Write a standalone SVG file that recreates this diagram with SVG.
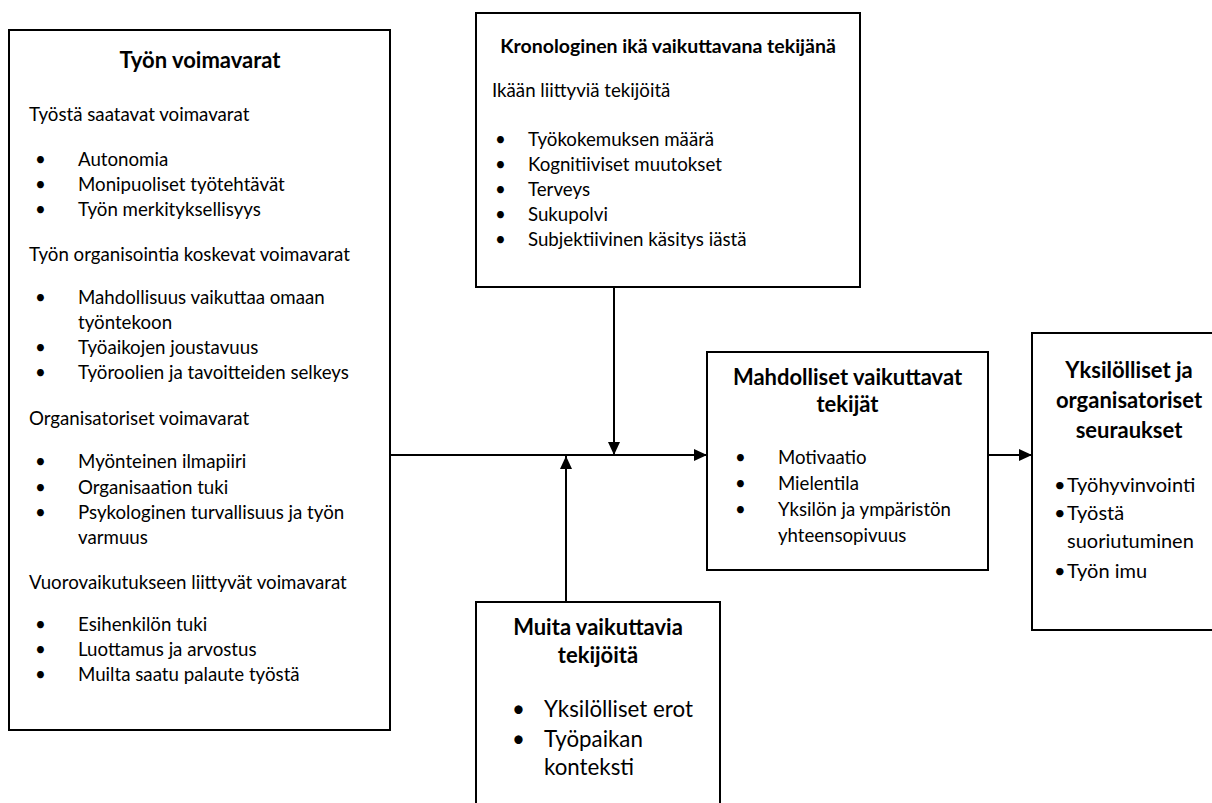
<svg xmlns="http://www.w3.org/2000/svg" width="1212" height="803" viewBox="0 0 1212 803">
<defs>
<style>
.box{fill:#fff;stroke:#000;stroke-width:2}
.ln{fill:none;stroke:#000;stroke-width:2}
text{font-family:Lato,"Liberation Sans",sans-serif;fill:#000}
.h{font-weight:bold;font-size:19.5px;text-anchor:middle}
.h1{font-weight:bold;font-size:22px;text-anchor:middle}
.H{font-weight:bold;font-size:22px;text-anchor:middle}
.r{font-size:18.7px}
.m{font-size:18.6px}
.q{font-size:20px}
.R{font-size:22.3px}
</style>
<marker id="ah" markerUnits="userSpaceOnUse" markerWidth="13" markerHeight="12" refX="13" refY="6" orient="auto">
<path d="M0,0 L13,6 L0,12 z" fill="#000"/>
</marker>
</defs>
<rect width="1212" height="803" fill="#fff"/>

<g id="tyon-voimavarat">
<rect class="box" x="9" y="30" width="381" height="700"/>
<text class="h1" x="200" y="68">Työn voimavarat</text>
<text class="r" x="29" y="121">Työstä saatavat voimavarat</text>
<text class="r" x="35" y="166">•</text><text class="r" x="78" y="166">Autonomia</text>
<text class="r" x="35" y="191">•</text><text class="r" x="78" y="191">Monipuoliset työtehtävät</text>
<text class="r" x="35" y="216">•</text><text class="r" x="78" y="216">Työn merkityksellisyys</text>
<text class="r" x="29" y="261">Työn organisointia koskevat voimavarat</text>
<text class="r" x="35" y="304">•</text><text class="r" x="78" y="304">Mahdollisuus vaikuttaa omaan</text>
<text class="r" x="78" y="329">työntekoon</text>
<text class="r" x="35" y="354">•</text><text class="r" x="78" y="354">Työaikojen joustavuus</text>
<text class="r" x="35" y="379">•</text><text class="r" x="78" y="379">Työroolien ja tavoitteiden selkeys</text>
<text class="r" x="29" y="425">Organisatoriset voimavarat</text>
<text class="r" x="35" y="468">•</text><text class="r" x="78" y="468">Myönteinen ilmapiiri</text>
<text class="r" x="35" y="494">•</text><text class="r" x="78" y="494">Organisaation tuki</text>
<text class="r" x="35" y="519">•</text><text class="r" x="78" y="519">Psykologinen turvallisuus ja työn</text>
<text class="r" x="78" y="544">varmuus</text>
<text class="r" x="29" y="589">Vuorovaikutukseen liittyvät voimavarat</text>
<text class="r" x="35" y="631">•</text><text class="r" x="78" y="631">Esihenkilön tuki</text>
<text class="r" x="35" y="656">•</text><text class="r" x="78" y="656">Luottamus ja arvostus</text>
<text class="r" x="35" y="681">•</text><text class="r" x="78" y="681">Muilta saatu palaute työstä</text>
</g>

<g id="kronologinen-ika">
<rect class="box" x="476" y="13" width="384" height="274"/>
<text class="h" x="668" y="53">Kronologinen ikä vaikuttavana tekijänä</text>
<text class="r" x="492" y="97">Ikään liittyviä tekijöitä</text>
<text class="r" x="495" y="146">•</text><text class="r" x="528" y="146">Työkokemuksen määrä</text>
<text class="r" x="495" y="171">•</text><text class="r" x="528" y="171">Kognitiiviset muutokset</text>
<text class="r" x="495" y="196">•</text><text class="r" x="528" y="196">Terveys</text>
<text class="r" x="495" y="221">•</text><text class="r" x="528" y="221">Sukupolvi</text>
<text class="r" x="495" y="246">•</text><text class="r" x="528" y="246">Subjektiivinen käsitys iästä</text>
</g>

<g id="mahdolliset-tekijat">
<rect class="box" x="707" y="352" width="281" height="218"/>
<text class="H" x="847.5" y="385">Mahdolliset vaikuttavat</text>
<text class="H" x="847.5" y="412">tekijät</text>
<text class="m" x="735" y="464">•</text><text class="m" x="778" y="464">Motivaatio</text>
<text class="m" x="735" y="490">•</text><text class="m" x="778" y="490">Mielentila</text>
<text class="m" x="735" y="516">•</text><text class="m" x="778" y="516">Yksilön ja ympäristön</text>
<text class="m" x="778" y="542">yhteensopivuus</text>
</g>

<g id="seuraukset">
<rect class="box" x="1032" y="333" width="194" height="297"/>
<text class="H" x="1129" y="378">Yksilölliset ja</text>
<text class="H" x="1129" y="408">organisatoriset</text>
<text class="H" x="1129" y="438">seuraukset</text>
<text class="q" x="1054" y="492">•</text><text class="q" x="1067" y="492">Työhyvinvointi</text>
<text class="q" x="1054" y="520">•</text><text class="q" x="1067" y="520">Työstä</text>
<text class="q" x="1067" y="548">suoriutuminen</text>
<text class="q" x="1054" y="578">•</text><text class="q" x="1067" y="578">Työn imu</text>
</g>

<g id="muita-tekijoita">
<rect class="box" x="476" y="602" width="244" height="230"/>
<text class="H" x="598" y="635">Muita vaikuttavia</text>
<text class="H" x="598" y="663">tekijöitä</text>
<text class="R" x="512" y="717">•</text><text class="R" x="544" y="717">Yksilölliset erot</text>
<text class="R" x="512" y="747">•</text><text class="R" x="544" y="747">Työpaikan</text>
<text class="R" x="544" y="775">konteksti</text>
</g>

<g id="connectors">
<line class="ln" x1="390" y1="455" x2="707" y2="455" marker-end="url(#ah)"/>
<line class="ln" x1="614" y1="287" x2="614" y2="455" marker-end="url(#ah)"/>
<line class="ln" x1="566" y1="602" x2="566" y2="456" marker-end="url(#ah)"/>
<line class="ln" x1="988" y1="455" x2="1032" y2="455" marker-end="url(#ah)"/>
</g>
</svg>
